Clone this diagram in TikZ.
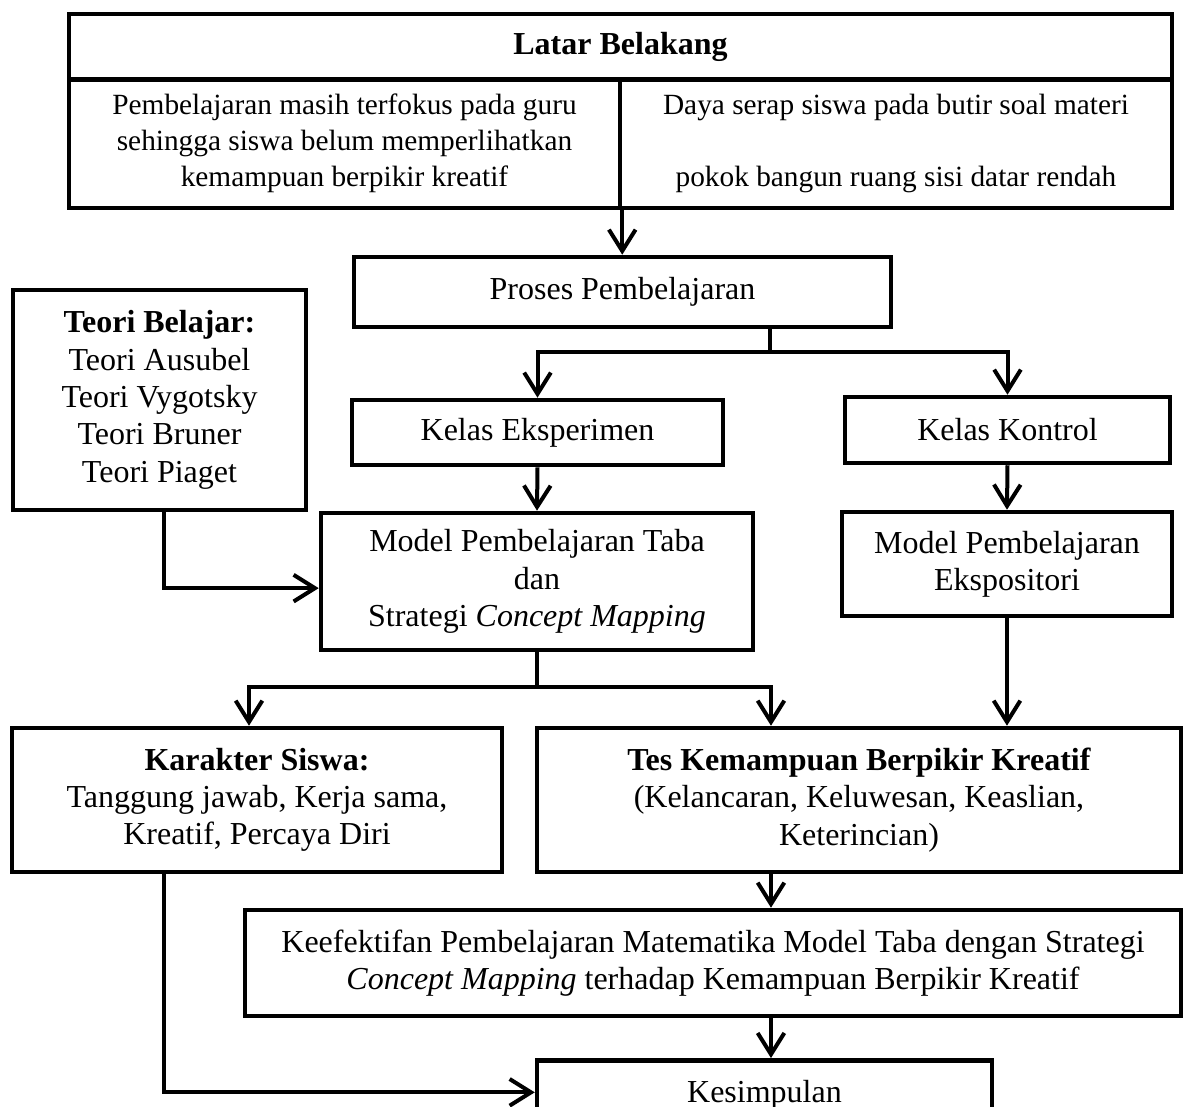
\documentclass[tikz,border=0pt]{standalone}
\usepackage{fontspec}
\setmainfont{Liberation Serif}
\usetikzlibrary{arrows.meta}

\tikzset{
  kotak/.style={draw, line width=1.7pt, inner sep=0pt, align=center, font=\fontsize{12}{14}\selectfont},
  kotakkecil/.style={kotak, font=\fontsize{11}{13.5}\selectfont},
  panah/.style={line width=1.5pt, -{Straight Barb[length=8pt,width=10pt]}},
  garis/.style={line width=1.5pt}
}

\begin{document}
\begin{tikzpicture}[x=0.375pt, y=-0.375pt]

    \useasboundingbox (0,0) rectangle (1183,1107);
    \clip (0,0) rectangle (1183,1107);

    \node [kotak, minimum width=413.6pt, minimum height=24.75pt] (latar) at (620.5,47) {\textbf{Latar Belakang}};
    \node [kotakkecil, minimum width=206.6pt, minimum height=48.4pt] (kiri) at (344.5,143.5) {Pembelajaran masih terfokus pada guru\\ sehingga siswa belum memperlihatkan\\ kemampuan berpikir kreatif};
    \node [kotakkecil, minimum width=207pt, minimum height=48.4pt] (kanan) at (896,143.5) {Daya serap siswa pada butir soal materi\\[13.5pt] pokok bangun ruang sisi datar rendah};

    \node [kotak, minimum width=201.4pt, minimum height=26.25pt] (proses) at (622.5,292) {Proses Pembelajaran};

    \node [kotak, minimum width=139.1pt, minimum height=24.4pt] (eksp) at (537.5,432.5) {Kelas Eksperimen};
    \node [kotak, minimum width=121.9pt, minimum height=24.75pt] (kontrol) at (1007.5,430) {Kelas Kontrol};

    \node [kotak, minimum width=109.9pt, minimum height=82.5pt] (teori) at (159.5,400) {\textbf{Teori Belajar:}\\ Teori Ausubel\\ Teori Vygotsky\\ Teori Bruner\\ Teori Piaget};

    \node [kotak, minimum width=162pt, minimum height=51.4pt] (taba) at (537,581.5) {Model Pembelajaran Taba\\ dan\\ Strategi \textit{Concept Mapping}};
    \node [kotak, minimum width=123.75pt, minimum height=39pt] (ekspo) at (1007,564) {Model Pembelajaran\\ Ekspositori};

    \node [kotak, minimum width=183.75pt, minimum height=54pt] (karakter) at (257,800) {\textbf{Karakter Siswa:}\\ Tanggung jawab, Kerja sama,\\ Kreatif, Percaya Diri};
    \node [kotak, minimum width=241.5pt, minimum height=54pt] (tes) at (859,800) {\textbf{Tes Kemampuan Berpikir Kreatif}\\ (Kelancaran, Keluwesan, Keaslian,\\ Keterincian)};

    \node [kotak, minimum width=351pt, minimum height=39.75pt] (efektif) at (713,963) {Keefektifan Pembelajaran Matematika Model Taba dengan Strategi\\ \textit{Concept Mapping} terhadap Kemampuan Berpikir Kreatif};

    \node [kotak, minimum width=170.6pt, minimum height=26pt] (simpulan) at (764.5,1095) {Kesimpulan};

    \coordinate (cabang1) at (770,352);
    \coordinate (cabang2) at (537,687);
    \coordinate (jalur) at (771,0);
    \coordinate (jalurkiri) at (164,0);

    \draw [panah] (kiri.south east) -- (kiri.south east |- proses.north);

    \draw [garis] (cabang1 |- proses.south) -- (cabang1);
    \draw [panah] (cabang1) -| (eksp.north);
    \draw [panah] (cabang1) -| (kontrol.north);

    \draw [panah] (eksp.south) -- (taba.north);
    \draw [panah] (kontrol.south) -- (ekspo.north);
    \draw [panah] (jalurkiri |- teori.south) |- ([yshift=-2.5pt]taba.west);

    \draw [garis] (taba.south) -- (cabang2);
    \draw [panah] (cabang2) -| ([xshift=-3pt]karakter.north);
    \draw [panah] (cabang2) -| (jalur |- tes.north);
    \draw [panah] (ekspo.south) -- (ekspo.south |- tes.north);

    \draw [panah] (jalur |- tes.south) -- (jalur |- efektif.north);
    \draw [panah] (jalur |- efektif.south) -- (jalur |- simpulan.north);
    \draw [panah] (jalurkiri |- karakter.south) |- ([yshift=1pt]simpulan.west);

\end{tikzpicture}
\end{document}
